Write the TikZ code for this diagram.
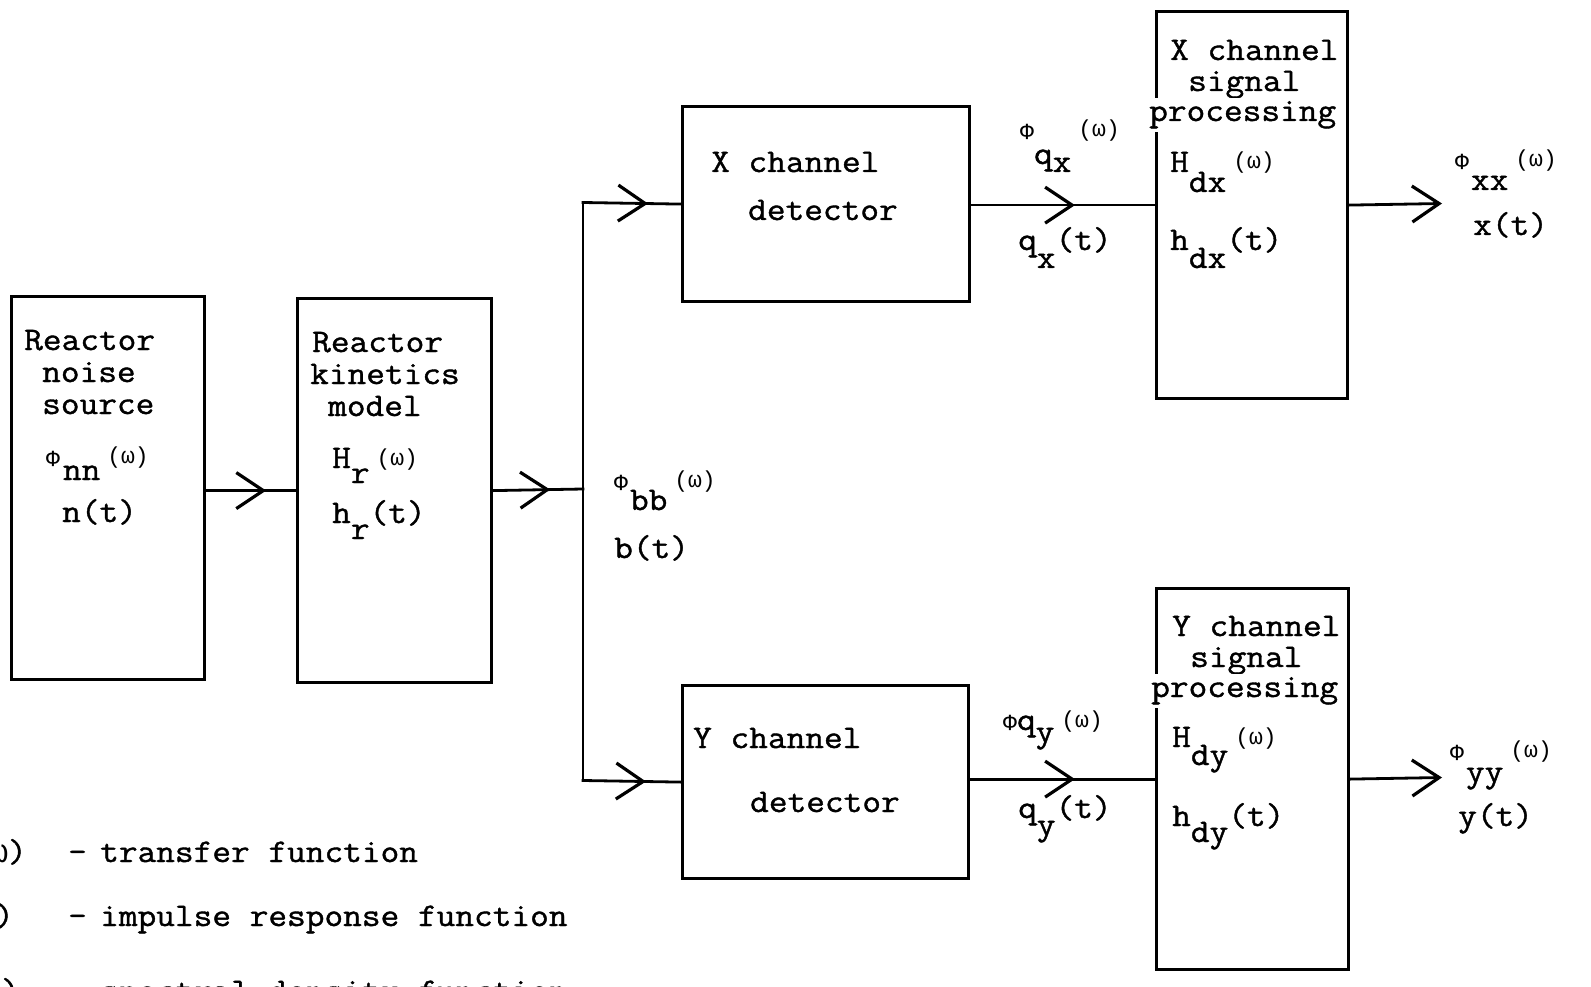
\documentclass[tikz,border=0pt]{standalone}
\usepackage{fontspec}
\newfontfamily\tw{Latin Modern Mono}[FakeStretch=1.1, FakeBold=1.2]
\newfontfamily\gk{Liberation Mono}
\usetikzlibrary{arrows.meta,decorations.markings}
\newcommand\sm{\gk\fontsize{23}{23}\selectfont}
\newcommand\lo[2]{\raisebox{-#1pt}{#2}}
\newcommand\om{\hspace{7pt}\raisebox{3pt}{\sm(ω)}}
\tikzset{
  chev/.tip={Straight Barb[length=27pt,width=36pt,line width=3.2pt]},
  blk/.style={draw, line width=3.2pt, anchor=north west, inner sep=0pt},
  conn/.style={draw, line width=2.8pt, line cap=rect},
  midarr/.style={postaction={decorate}, decoration={markings, mark=at position #1 with {\arrow{chev}}}},
  txt/.style={anchor=base west, inner sep=0pt, font=\tw\fontsize{33}{34}\selectfont},
  txte/.style={anchor=base east, inner sep=0pt, font=\tw\fontsize{33}{34}\selectfont},
  brk/.style={txt, fill=white, inner xsep=1pt, inner ysep=3pt}
}
\begin{document}
\begin{tikzpicture}[x=1pt,y=-1pt]
\useasboundingbox (0,0) rectangle (1591,987);
% blocks
\node[blk, minimum width=193pt, minimum height=383pt] (ns) at (10,295) {};
\node[blk, minimum width=194pt, minimum height=384pt] (kin) at (296,297) {};
\node[blk, minimum width=287pt, minimum height=195pt] (xd) at (681,105) {};
\node[blk, minimum width=286pt, minimum height=193pt] (yd) at (681,684) {};
\node[blk, minimum width=191pt, minimum height=387pt] (xp) at (1155,10) {};
\node[blk, minimum width=192pt, minimum height=381pt] (yp) at (1155,587) {};
% coordinates
\coordinate (j) at (583,489);
\coordinate (jt) at (583,202.5);
\coordinate (jb) at (583,780.5);
\coordinate (xo) at (1442,203.5);
\coordinate (yo) at (1442,777.5);
% connectors
\draw[conn, midarr=60pt] (ns.east |- kin.west) -- (kin.west);
\draw[conn, midarr=57pt] (kin.east) -- (j);
\draw[conn] (jt) -- (jb);
\draw[conn, midarr=-33pt] (jt) -- (xd.west);
\draw[conn, midarr=-35pt] (jb) -- (yd.west);
\draw[conn, midarr=-80pt] (xd.east |- xp.west) -- (xp.west);
\draw[conn, midarr=-80pt] (yd.east |- yp.west) -- (yp.west);
\draw[conn, -chev] (xp.east) -- (xo);
\draw[conn, -chev] (yp.east) -- (yo);
% noise source
\node[txt] (a1) at (24,350) {Reactor};
\node[txt] (a2) at (42,382) {noise};
\node[txt] (a3) at (42,414) {source};
\node[txt] (a4) at (46,466) {{\sm Φ}\hspace{3pt}\lo{14}{nn}\om};
\node[txt] (a5) at (62,522) {n(t)};
% kinetics
\node[txt] (b1) at (312,352) {Reactor};
\node[txt] (b2) at (310,384) {kinetics};
\node[txt] (b3) at (328,416) {model};
\node[txt] (b4) at (332,468) {H\lo{15}{r}\om};
\node[txt] (b5) at (332,523) {h\lo{16}{r}(t)};
% b labels
\node[txt] (c1) at (614,490) {{\sm Φ}\hspace{2pt}\lo{20}{bb}\om};
\node[txt] (c2) at (614,558) {b(t)};
% detectors
\node[txt] (d1) at (711,172) {X channel};
\node[txt] (d2) at (748,220) {detector};
\node[txt] (e1) at (693,748) {Y channel};
\node[txt] (e2) at (750,812) {detector};
% q labels
\node[txt] (f1) at (1020,140) {{\sm Φ}\lo{24}{q\lo{8}{x}}\om};
\node[txt] (f2) at (1018,250) {q\lo{18}{x}(t)};
\node[txt] (g1) at (1003,730) {{\sm Φ}q\lo{12}{y}\om};
\node[txt] (g2) at (1018,818) {q\lo{17}{y}(t)};
% X processing
\node[txt] (h1) at (1170,60) {X channel};
\node[txt] (h2) at (1188,91) {signal};
\node[brk] (h3) at (1148,121) {processing};
\node[txt] (h4) at (1170,172) {H\lo{20}{dx}\om};
\node[txt] (h5) at (1170,250) {h\lo{18}{dx}(t)};
% Y processing
\node[txt] (i1) at (1172,636) {Y channel};
\node[txt] (i2) at (1190,667) {signal};
\node[brk] (i3) at (1150,697) {processing};
\node[txt] (i4) at (1172,747) {H\lo{18}{dy}\om};
\node[txt] (i5) at (1172,826) {h\lo{16}{dy}(t)};
% outputs
\node[txt] (k1) at (1455,170) {{\sm Φ}\hspace{2pt}\lo{20}{xx}\om};
\node[txt] (k2) at (1473,235) {x(t)};
\node[txt] (m1) at (1450,760) {{\sm Φ}\hspace{2pt}\lo{22}{yy}\om};
\node[txt] (m2) at (1458,826) {y(t)};
% legend
\node[txte] (l1a) at (27,862) {({\gk ω})};
\node[txt] (l1b) at (68,862) {-};
\node[txt] (l1c) at (100,862) {transfer function};
\node[txte] (l2a) at (14,926) {(t)};
\node[txt] (l2b) at (68,926) {-};
\node[txt] (l2c) at (100,926) {impulse response function};
\node[txte] (l3a) at (20,1001) {({\gk ω})};
\node[txt] (l3b) at (68,1001) {-};
\node[txt] (l3c) at (100,1001) {spectral density function};
\end{tikzpicture}
\end{document}
